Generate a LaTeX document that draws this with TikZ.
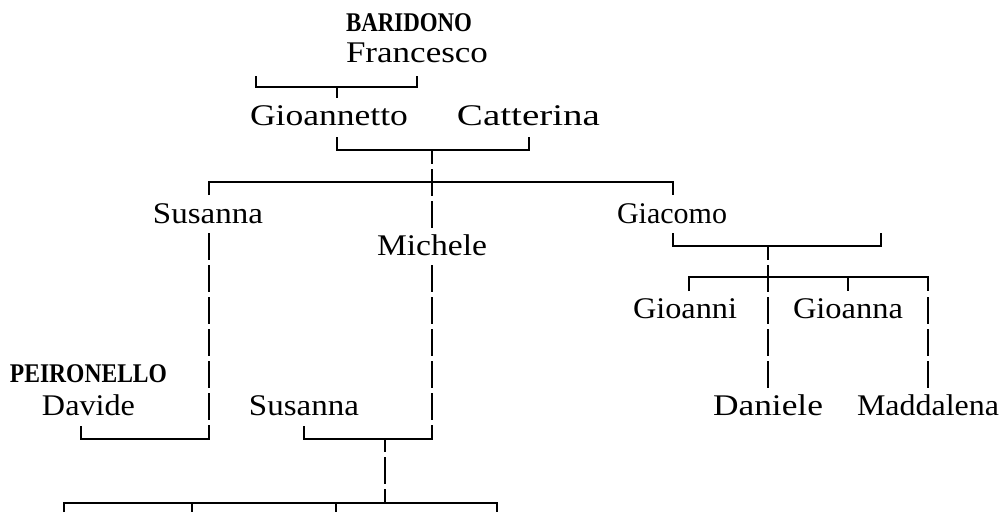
\documentclass[tikz,border=0pt]{standalone}
\usepackage{fontspec}
\setmainfont{Liberation Serif}
\usepackage{graphicx}
\newcommand\fitname[2]{\resizebox{#1pt}{\height}{#2}}
\begin{document}
\begin{tikzpicture}[x=1pt,y=-1pt,
  person/.style={anchor=base,inner sep=0pt,font=\fontsize{30}{32}\selectfont},
  family/.style={anchor=base,inner sep=0pt,font=\fontsize{27}{32}\selectfont\bfseries},
  link/.style={line width=1.8pt,line join=miter},
  vlink/.style={line width=1.8pt,dash pattern=on 27pt off 5pt,dash phase=#1pt},
  vlink/.default=0]
\useasboundingbox (0,0) rectangle (1002,512);

% names
\node[family] (baridono) at (409,31) {\fitname{126}{BARIDONO}};
\node[person] (francesco) at (417,62) {\fitname{142}{Francesco}};
\node[person] (gioannetto) at (329,125) {\fitname{158}{Gioannetto}};
\node[person] (catterina) at (528.5,125) {\fitname{143}{Catterina}};
\node[person] (susanna) at (208,223) {\fitname{110}{Susanna}};
\node[person] (giacomo) at (672,223) {\fitname{110}{Giacomo}};
\node[person] (michele) at (432,255) {\fitname{110}{Michele}};
\node[person] (gioanni) at (685,318) {\fitname{104}{Gioanni}};
\node[person] (gioanna) at (848,318) {\fitname{110}{Gioanna}};
\node[family] (peironello) at (88.5,382) {\fitname{157}{PEIRONELLO}};
\node[person] (davide) at (88.5,415) {\fitname{93}{Davide}};
\node[person] (susannab) at (304,415) {\fitname{110}{Susanna}};
\node[person] (daniele) at (768,415) {\fitname{110}{Daniele}};
\node[person] (maddalena) at (928,415) {\fitname{142}{Maddalena}};

% connector points
\coordinate (fl) at (256,76);
\coordinate (fr) at (417,76);
\coordinate (ft) at (337,87);
\coordinate (fb) at (337,98);
\coordinate (gl) at (337,137);
\coordinate (gr) at (529,137);
\coordinate (gt) at (432,150);
\coordinate (mtop) at (432,228);
\coordinate (sl) at (209,195);
\coordinate (gcr) at (673,195);
\coordinate (stop) at (209,233);
\coordinate (mlow) at (432,265);
\coordinate (dv) at (81,426);
\coordinate (sv) at (209,426);
\coordinate (s2v) at (304,426);
\coordinate (mv) at (432,426);
\coordinate (kt) at (385,439);
\coordinate (kb) at (385,503);
\coordinate (k1) at (64,512);
\coordinate (k2) at (192,512);
\coordinate (k3) at (336,512);
\coordinate (k4) at (497,512);
\coordinate (k4t) at (497,503);
\coordinate (k2t) at (192,503);
\coordinate (k3t) at (336,503);
\coordinate (jl) at (673,233);
\coordinate (jr) at (881,233);
\coordinate (jt) at (768,246);
\coordinate (jb) at (768,388);
\coordinate (cl) at (689,291);
\coordinate (cr) at (928,277);
\coordinate (crb) at (928,291);
\coordinate (cm) at (928,297);
\coordinate (cmb) at (928,388);
\coordinate (ca) at (848,277);
\coordinate (cab) at (848,291);

% Baridono Francesco -> Gioannetto
\draw[link] (fl) |- (ft) -| (fr);
\draw[link] (ft) -- (fb);
% Gioannetto + Catterina -> children
\draw[link] (gl) |- (gt) -| (gr);
\draw[vlink=13] (gt) -- (mtop);
\draw[link] (sl) -- ++(0,-13) -| (gcr);
% Susanna + Peironello Davide
\draw[vlink] (stop) -- (sv);
\draw[link] (dv) -- ++(0,13) -| (sv);
% Michele + Susanna
\draw[vlink] (mlow) -- (mv);
\draw[link] (s2v) -- ++(0,13) -| (mv);
\draw[vlink=14] (kt) -- (kb);
\draw[link] (k1) |- (k4t) -- (k4);
\draw[link] (k2t) -- (k2);
\draw[link] (k3t) -- (k3);
% Giacomo
\draw[link] (jl) -- ++(0,13) -| (jr);
\draw[vlink=13] (jt) -- (jb);
\draw[link] (cl) |- (cr) -- (crb);
\draw[link] (ca) -- (cab);
\draw[vlink] (cm) -- (cmb);
\end{tikzpicture}
\end{document}
